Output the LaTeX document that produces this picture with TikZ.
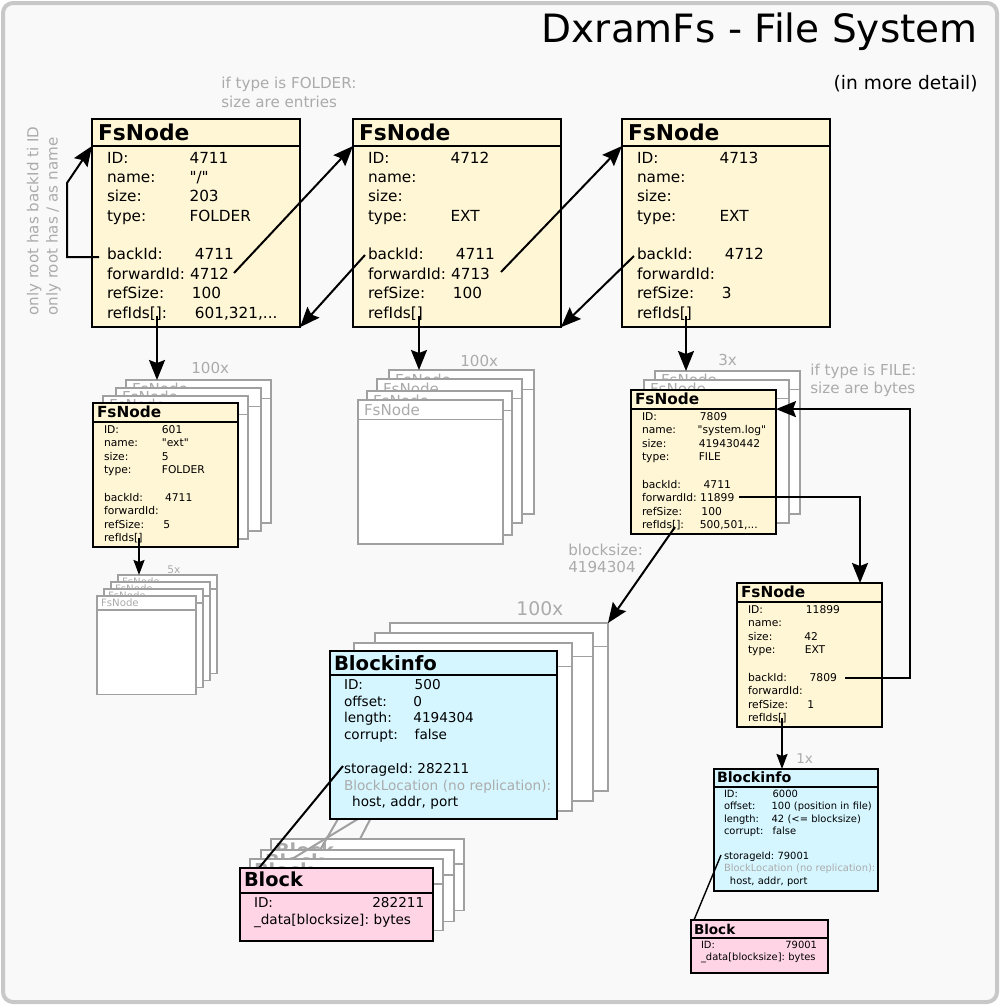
\documentclass[tikz,border=0pt]{standalone}
\usepackage{fontspec}
\setmainfont{DejaVu Sans}
\usetikzlibrary{shapes.multipart,arrows.meta}
\setlength{\parindent}{0pt}
\frenchspacing

\newdimen\pxu \pxu=0.02cm
\definecolor{fscream}{HTML}{FFF6D5}
\definecolor{bicyan}{HTML}{D5F6FF}
\definecolor{blpink}{HTML}{FFD5E5}
\definecolor{ghostline}{HTML}{A0A0A0}
\definecolor{notegray}{HTML}{ABABAB}
\definecolor{framegray}{HTML}{C8C8C8}
\definecolor{paper}{HTML}{F9F9F9}

% label with fixed column, then value
\newcommand{\kv}[3][5.4em]{\makebox[#1][l]{#2}#3}
% invisible strut: height, depth (in px)
\newcommand{\sr}[2]{\rule[-#2\pxu]{0pt}{\dimexpr #1\pxu+#2\pxu\relax}}
\newcommand{\qq}[1]{\textquotedbl#1\textquotedbl}

\tikzset{
  box/.style={rectangle split, rectangle split parts=2, draw, line width=2\pxu,
    outer sep=0pt, anchor=north west, align=left},
  fsbig/.style={box, fill=fscream, text width=196\pxu, inner xsep=6\pxu,
    inner ysep=3\pxu, font=\fontsize{8.7}{11.04}\selectfont},
  fssmall/.style={box, fill=fscream, text width=137\pxu, inner xsep=4\pxu,
    inner ysep=2\pxu, font=\fontsize{6.1}{7.74}\selectfont},
  bibig/.style={box, fill=bicyan, text width=219\pxu, inner xsep=4\pxu,
    inner ysep=3\pxu, font=\fontsize{7.74}{9.56}\selectfont},
  bismall/.style={box, fill=bicyan, text width=158\pxu, inner xsep=3\pxu,
    inner ysep=2\pxu, font=\fontsize{5.65}{7.06}\selectfont},
  blbig/.style={box, fill=blpink, text width=185\pxu, inner xsep=4\pxu,
    inner ysep=3\pxu, font=\fontsize{7.74}{9.56}\selectfont},
  blsmall/.style={box, fill=blpink, text width=131\pxu, inner xsep=3\pxu,
    inner ysep=2\pxu, font=\fontsize{5.65}{6.83}\selectfont},
  ghost/.style={box, draw=ghostline, fill=white, text=notegray, line width=1.6\pxu},
  ghostfs/.style={ghost, text width=133\pxu, inner xsep=6\pxu, inner ysep=2\pxu,
    font=\fontsize{8.6}{10}\selectfont},
  ghosttiny/.style={ghost, text width=91\pxu, inner xsep=4\pxu, inner ysep=1.5\pxu,
    font=\fontsize{5.8}{7}\selectfont},
  ghostbi/.style={ghost, text width=210\pxu, inner xsep=4\pxu, inner ysep=3\pxu},
  ghostbl/.style={ghost, text width=185\pxu, inner xsep=4\pxu, inner ysep=3\pxu,
    font=\fontsize{11}{13}\selectfont\bfseries},
  note/.style={text=notegray, inner sep=0pt, align=left,
    font=\fontsize{8.6}{11.04}\selectfont},
  link/.style={line width=2\pxu, -{Stealth[length=0.4cm, width=0.32cm, inset=0.06cm]}},
  linksm/.style={line width=2\pxu, -{Stealth[length=0.3cm, width=0.22cm, inset=0.04cm]}},
  wire/.style={line width=2\pxu},
  ghostwire/.style={line width=2\pxu, draw=ghostline},
}

\begin{document}
\begin{tikzpicture}[x=0.02cm, y=-0.02cm]
  \useasboundingbox (0,0) rectangle (1000,1005);
  \draw[framegray, line width=4\pxu, fill=paper, rounded corners=10\pxu] (3,3) rectangle (997,1002);

  % titles and notes
  \node[anchor=base east, inner sep=0pt, font=\fontsize{22.2}{26}\selectfont] (title) at (978,42) {DxramFs - File System};
  \node[anchor=base east, inner sep=0pt, font=\fontsize{10.6}{13}\selectfont] (subtitle) at (978,89) {(in more detail)};
  \node[note, anchor=north west] (foldernote) at (221,76.5) {if type is FOLDER:\\size are entries};
  \node[note, rotate=90, anchor=north west] (rootnote) at (26.5,316) {only root has backId ti ID\\only root has / as name};
  \node[note, anchor=north west, font=\fontsize{8.6}{10.24}\selectfont] (filenote) at (810,363.5) {if type is FILE:\\size are bytes};
  \node[note, anchor=north west, font=\fontsize{8.6}{9.67}\selectfont] (blocknote) at (568,543.5) {blocksize:\\4194304};
  \node[note, anchor=base west] (cnt1) at (191,373) {100x};
  \node[note, anchor=base west] (cnt2) at (460,366) {100x};
  \node[note, anchor=base west] (cnt3) at (718,365) {3x};
  \node[note, anchor=base west, font=\fontsize{6}{7}\selectfont] (cnt4) at (167,573) {5x};
  \node[note, anchor=base west, font=\fontsize{10.7}{13}\selectfont] (cnt5) at (516,615) {100x};
  \node[note, anchor=base west, font=\fontsize{7.7}{9}\selectfont] (cnt6) at (796,763) {1x};

  % first row of FsNodes
  \node[fsbig] (b1) at (92,119) {\fontsize{12.4}{15}\selectfont\bfseries\sr{17}{2}FsNode
    \nodepart{two}\leftskip=9\pxu\sr{13}{0}\kv{ID:}{4711}\\
    \kv{name:}{\qq{/}}\\
    \kv{size:}{203}\\
    \kv{type:}{FOLDER}\\
    \mbox{}\\
    \kv[5.75em]{backId:}{4711}\\
    forwardId: 4712\\
    \kv[5.55em]{refSize:}{100}\\
    \kv[5.75em]{refIds[]:}{601,321,...}\sr{0}{5}\par};
  \node[fsbig] (b2) at (353,119) {\fontsize{12.4}{15}\selectfont\bfseries\sr{17}{2}FsNode
    \nodepart{two}\leftskip=9\pxu\sr{13}{0}\kv{ID:}{4712}\\
    name:\\
    size:\\
    \kv{type:}{EXT}\\
    \mbox{}\\
    \kv[5.75em]{backId:}{4711}\\
    forwardId: 4713\\
    \kv[5.55em]{refSize:}{100}\\
    refIds[]\sr{0}{5}\par};
  \node[fsbig] (b3) at (622,119) {\fontsize{12.4}{15}\selectfont\bfseries\sr{17}{2}FsNode
    \nodepart{two}\leftskip=9\pxu\sr{13}{0}\kv{ID:}{4713}\\
    name:\\
    size:\\
    \kv{type:}{EXT}\\
    \mbox{}\\
    \kv[5.75em]{backId:}{4712}\\
    forwardId:\\
    \kv[5.55em]{refSize:}{3}\\
    refIds[]\sr{0}{5}\par};

  % stacks below the first row
  \foreach \gx/\gy [count=\i] in {126/380,116/388,103/396} {
    \node[ghostfs] (lg\i) at (\gx,\gy) {\sr{11.5}{1.5}FsNode\nodepart{two}\sr{119}{0}};
  }
  \node[fssmall] (n601) at (93,403) {\fontsize{8.7}{10}\selectfont\bfseries\sr{11.5}{1.5}FsNode
    \nodepart{two}\leftskip=7\pxu\sr{7.7}{0}\kv{ID:}{601}\\
    \kv{name:}{\qq{ext}}\\
    \kv{size:}{5}\\
    \kv{type:}{FOLDER}\\
    \mbox{}\\
    \kv[5.7em]{backId:}{4711}\\
    forwardId:\\
    \kv[5.55em]{refSize:}{5}\\
    refIds[]\sr{0}{2}\par};
  \foreach \gx/\gy [count=\i] in {118/575,111/582,104/589,97/596} {
    \node[ghosttiny] (sg\i) at (\gx,\gy) {\sr{7.5}{1.5}FsNode\nodepart{two}\sr{80}{0}};
  }
  \foreach \gx/\gy [count=\i] in {389/370,377/379,367/391,358/400} {
    \node[ghostfs] (mg\i) at (\gx,\gy) {\sr{12.5}{1.5}FsNode\nodepart{two}\sr{119}{0}};
  }
  \foreach \gx/\gy [count=\i] in {655/371,644/380} {
    \node[ghostfs] (rg\i) at (\gx,\gy) {\sr{11.5}{1.5}FsNode\nodepart{two}\sr{119}{0}};
  }
  \node[fssmall] (n7809) at (631,390) {\fontsize{8.7}{10}\selectfont\bfseries\sr{11.5}{1.5}FsNode
    \nodepart{two}\leftskip=7\pxu\sr{7.7}{0}\kv{ID:}{7809}\\
    \kv[5.2em]{name:}{\qq{system.log}}\\
    \kv[5.3em]{size:}{419430442}\\
    \kv[5.3em]{type:}{FILE}\\
    \mbox{}\\
    \kv[5.75em]{backId:}{4711}\\
    forwardId: 11899\\
    \kv[5.55em]{refSize:}{100}\\
    \kv{refIds[]:}{500,501,...}\sr{0}{2}\par};
  \node[fssmall] (n11899) at (737,583) {\fontsize{8.7}{10}\selectfont\bfseries\sr{11.5}{1.5}FsNode
    \nodepart{two}\leftskip=7\pxu\sr{7.7}{0}\kv{ID:}{11899}\\
    name:\\
    \kv[5.25em]{size:}{42}\\
    \kv[5.3em]{type:}{EXT}\\
    \mbox{}\\
    \kv[5.75em]{backId:}{7809}\\
    forwardId:\\
    \kv[5.55em]{refSize:}{1}\\
    refIds[]\sr{0}{2}\par};

  % block infos with their blocks
  \foreach \bx/\by/\kx/\ky/\sx/\sy/\ex [count=\i] in
      {390/623/271/839/376/808/89, 375/633/261/850/345/807/59, 354/643/250/859/376/808/42} {
    \node[ghostbi] (gbi\i) at (\bx,\by) {\sr{16}{0}\nodepart{two}\sr{137}{0}};
    \node[ghostbl] (gbl\i) at (\kx,\ky) {\sr{13.3}{2.7}Block\nodepart{two}\sr{39}{0}};
    \coordinate (gs\i) at (\sx,\sy);
    \draw[ghostwire] (gs\i) -- ([xshift=\ex\pxu]gbl\i.north west);
  }
  \node[bibig] (bi500) at (330,651) {\fontsize{11.2}{13}\selectfont\bfseries\sr{15}{1}Blockinfo
    \nodepart{two}\leftskip=10\pxu\sr{10.3}{0}\kv[5.2em]{ID:}{500}\\
    \kv[5.1em]{offset:}{0}\\
    \kv[5.1em]{length:}{4194304}\\
    \kv[5.2em]{corrupt:}{false}\\
    \mbox{}\\
    storageId: 282211\\
    \mbox{\textcolor{notegray}{BlockLocation (no replication):}}\\
    \hspace*{0.6em}host, addr, port\sr{0}{8}\par};
  \node[blbig] (bl282211) at (240,868) {\fontsize{11}{13}\selectfont\bfseries\sr{13.3}{2.7}Block
    \nodepart{two}\leftskip=10\pxu\sr{9}{0}\kv[8.7em]{ID:}{282211}\\
    \_data[blocksize]: bytes\sr{0}{13}\par};

  \node[bismall] (bi6000) at (714,769) {\fontsize{8.1}{10}\selectfont\bfseries\sr{10.7}{1.3}Blockinfo
    \nodepart{two}\leftskip=7\pxu\sr{6}{0}\kv[4.9em]{ID:}{6000}\\
    \kv[4.8em]{offset:}{100 (position in file)}\\
    \kv[4.8em]{length:}{42 (<= blocksize)}\\
    \kv[4.9em]{corrupt:}{false}\\
    \mbox{}\\
    storageId: 79001\\
    \mbox{\textcolor{notegray}{BlockLocation (no replication):}}\\
    \hspace*{0.6em}host, addr, port\sr{0}{4}\par};
  \node[blsmall] (bl79001) at (691,920) {\fontsize{7.7}{9}\selectfont\bfseries\sr{11.3}{0.7}Block
    \nodepart{two}\leftskip=7\pxu\sr{6.7}{0}\kv[8.5em]{ID:}{79001}\\
    \_data[blocksize]: bytes\sr{0}{9.5}\par};

  % pointer start points
  \coordinate (b1back) at (99,257);
  \coordinate (b1fwd) at (234,273);
  \coordinate (b1ref) at (157,316);
  \coordinate (b2back) at (365,255);
  \coordinate (b2fwd) at (501,272);
  \coordinate (b2ref) at (419,316);
  \coordinate (b3back) at (634,256);
  \coordinate (b3ref) at (686,316);
  \coordinate (n601ref) at (139,538);
  \coordinate (n7809fwd) at (739,497);
  \coordinate (n7809ref) at (675,527);
  \coordinate (n11899back) at (845,678);
  \coordinate (n11899ref) at (782,718);
  \coordinate (bi500store) at (343,766);
  \coordinate (bi6000store) at (721,855);

  % pointers
  \draw[link] (b1back) -- ++(-32,0) -- ++(0,-74) -- (b1.text split west);
  \draw[link] (b1fwd) -- (b2.text split west);
  \draw[link] (b2back) -- (b1.south east);
  \draw[link] (b2fwd) -- (b3.text split west);
  \draw[link] (b3back) -- (b2.south east);
  \draw[link] (b1ref) -- ([xshift=31\pxu]lg1.north west);
  \draw[link] (b2ref) -- ([xshift=30\pxu]mg1.north west);
  \draw[link] (b3ref) -- ([xshift=31\pxu]rg1.north west);
  \draw[linksm] (n601ref) -- ([xshift=21\pxu]sg1.north west);
  \draw[link] (n7809fwd) -| ([xshift=123\pxu]n11899.north west);
  \draw[link] (n11899back) -- ++(65,0) |- (n7809.text split east);
  \draw[link] (n7809ref) -- (gbi1.north east);
  \draw[linksm] (n11899ref) -- ([xshift=68\pxu]bi6000.north west);
  \draw[wire] (bi500store) -- ([xshift=19\pxu]bl282211.north west);
  \draw[wire, line width=1.4\pxu] (bi6000store) -- ([xshift=3\pxu]bl79001.north west);
\end{tikzpicture}
\end{document}
